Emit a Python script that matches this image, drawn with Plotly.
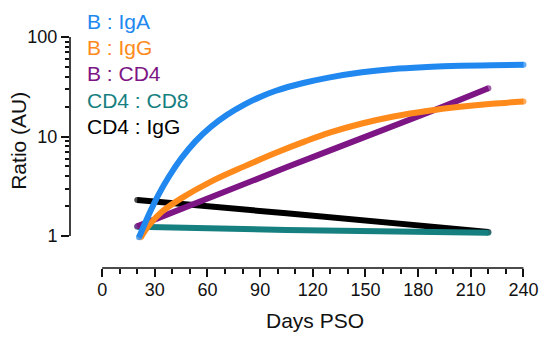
import math
import plotly.graph_objects as go

# Ratio trajectories over days post symptom onset (PSO)
igA_days = [21, 26.5, 32, 38, 45, 53, 62, 71, 81, 90, 99, 114, 129, 148, 166, 185, 204, 222, 240]
igA_vals = [0.97, 1.63, 2.58, 3.94, 6.0, 8.89, 12.53, 16.44, 20.89, 25.0, 28.84, 34.28, 39.08,
            44.16, 47.75, 49.89, 51.29, 52.0, 52.48]

igG_days = [22, 27, 34, 45, 62, 81, 99, 116, 130, 148, 166, 185, 204, 222, 240]
igG_vals = [0.97, 1.30, 1.75, 2.39, 3.52, 5.01, 6.87, 8.99, 10.99, 13.52, 15.89, 18.03, 19.86,
            21.33, 22.49]

cd4_days = [20, 105, 185, 220]
cd4_vals = [1.25, 4.9, 17.2, 30.5]

cd4cd8_days = [20, 105, 220]
cd4cd8_vals = [1.24, 1.15, 1.08]

cd4igg_days = [20, 105, 220]
cd4igg_vals = [2.3, 1.69, 1.10]

series = [
    ("CD4 : IgG", cd4igg_days, cd4igg_vals, "#000000"),
    ("CD4 : CD8", cd4cd8_days, cd4cd8_vals, "#167F80"),
    ("B : CD4", cd4_days, cd4_vals, "#7D1584"),
    ("B : IgG", igG_days, igG_vals, "#FF8A1C"),
    ("B : IgA", igA_days, igA_vals, "#2188F0"),
]
legend_order = ["B : IgA", "B : IgG", "B : CD4", "CD4 : CD8", "CD4 : IgG"]

x_ticks = list(range(0, 241, 30))
x_minor = [v for v in range(10, 240, 10) if v % 30]
y_ticks = [1, 10, 100]
y_minor = [m * d for d in (1, 10) for m in range(2, 10)]

FONT = "Liberation Sans, Arial, sans-serif"
W, H = 550, 337
ML, MR, MT, MB = 70, 14.7, 37, 68.7
X_RANGE = [-18.3, 242]
Y_RANGE = [-0.3216, 2.0]
plot_h = H - MT - MB
plot_w = W - ML - MR


def py(pixel_y):
    return (H - MB - pixel_y) / plot_h


def px(pixel_x):
    return (pixel_x - ML) / plot_w


def ylog_paper(v):
    return (math.log10(v) - Y_RANGE[0]) / (Y_RANGE[1] - Y_RANGE[0])


fig = go.Figure()
for name, xs, ys, color in series:
    n = len(xs)
    fig.add_trace(go.Scatter(
        x=xs, y=ys, name=name, mode="lines+markers",
        line=dict(color=color, width=6, shape="spline", smoothing=1.0),
        marker=dict(size=[6] + [0] * (n - 2) + [6], color=color, line=dict(width=0)),
        showlegend=False, hoverinfo="skip",
    ))

colors = {s[0]: s[3] for s in series}
annotations = []
for i, name in enumerate(legend_order):
    annotations.append(dict(
        text=name, xref="paper", yref="paper", x=px(85), y=py(21 + 26.5 * i),
        xanchor="left", yanchor="middle", showarrow=False,
        font=dict(family=FONT, size=21, color=colors[name]),
    ))
annotations.append(dict(
    text="Ratio (AU)", xref="paper", yref="paper", x=px(18), y=py(141),
    textangle=-90, showarrow=False, xanchor="center", yanchor="middle",
    font=dict(family=FONT, size=21, color="#111111"),
))
annotations.append(dict(
    text="Days PSO", xref="paper", yref="paper", x=px(319), y=py(320.6),
    showarrow=False, xanchor="center", yanchor="middle",
    font=dict(family=FONT, size=21, color="#111111"),
))

shapes = [
    # y axis spine spanning 1..100
    dict(type="line", xref="paper", yref="paper", x0=0, x1=0,
         y0=ylog_paper(1), y1=ylog_paper(100), line=dict(color="#111111", width=1.6)),
    # x axis spine spanning 0..240
    dict(type="line", xref="x", yref="paper", x0=0, x1=240, y0=0, y1=0,
         line=dict(color="#111111", width=1.6)),
]

fig.update_layout(
    width=W, height=H,
    margin=dict(l=ML, r=MR, t=MT, b=MB, pad=0),
    paper_bgcolor="white", plot_bgcolor="white",
    font=dict(family=FONT, size=18, color="#111111"),
    annotations=annotations, shapes=shapes,
    xaxis=dict(
        range=X_RANGE, showgrid=False, zeroline=False, showline=False,
        tickmode="array", tickvals=x_ticks, ticktext=[str(v) for v in x_ticks],
        ticks="outside", ticklen=8, tickwidth=1.5, tickcolor="#111111",
        ticklabelstandoff=-3,
        tickfont=dict(family=FONT, size=18, color="#111111"),
        minor=dict(tickmode="array", tickvals=x_minor, ticks="outside",
                   ticklen=4.5, tickwidth=1.5, tickcolor="#111111", showgrid=False),
    ),
    yaxis=dict(
        type="log", range=Y_RANGE, showgrid=False, zeroline=False, showline=False,
        tickmode="array", tickvals=y_ticks, ticktext=[str(v) for v in y_ticks],
        ticks="outside", ticklen=8, tickwidth=1.5, tickcolor="#111111",
        tickfont=dict(family=FONT, size=18, color="#111111"),
        minor=dict(tickmode="array", tickvals=y_minor, ticks="outside",
                   ticklen=4.5, tickwidth=1.5, tickcolor="#111111", showgrid=False),
    ),
)

fig.write_html("out.html")
